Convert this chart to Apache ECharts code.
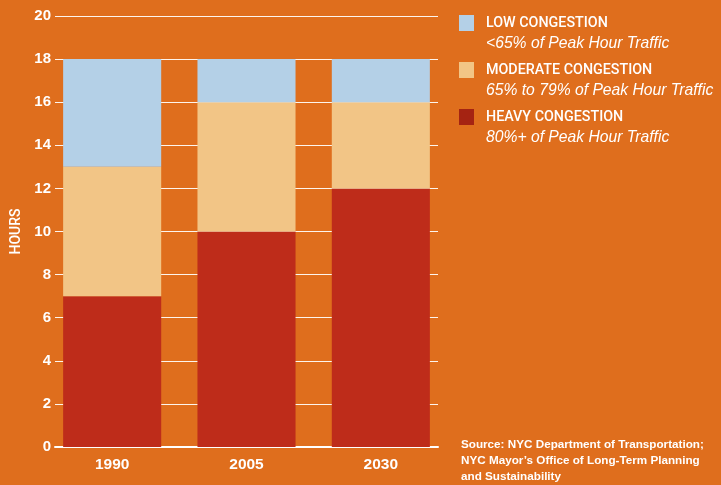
<!DOCTYPE html>
<html><head><meta charset="utf-8">
<script src="https://cdn.jsdelivr.net/npm/echarts@6/dist/echarts.min.js"></script>
<style>html,body{margin:0;padding:0;background:#DF6E1D;}#c{width:721px;height:485px;}</style>
</head><body><div id="c"></div>
<script>
const categories = ['1990', '2005', '2030'];
const heavyHours = [7, 10, 12];
const moderateHours = [6, 6, 4];
const lowHours = [5, 2, 2];
const yMin = 0, yMax = 20, yStep = 2;
const legendNames = ['LOW CONGESTION', 'MODERATE CONGESTION', 'HEAVY CONGESTION'];
const legendSubtitles = {
  'LOW CONGESTION': '<65% of Peak Hour Traffic',
  'MODERATE CONGESTION': '65% to 79% of Peak Hour Traffic',
  'HEAVY CONGESTION': '80%+ of Peak Hour Traffic'
};
const sourceLines = [
  'Source: NYC Department of Transportation;',
  'NYC Mayor\u2019s Office of Long-Term Planning',
  'and Sustainability'
];

const C_BG = '#DF6E1D', C_HEAVY = '#BE2C1A', C_MOD = '#F2C586', C_LOW = '#B4D0E7', C_HEAVY_KEY = '#A52312';
const FONT = '"Liberation Sans", Arial, sans-serif';
const CAPS = 'Roboto, "Liberation Sans", sans-serif';

const chart = echarts.init(document.getElementById('c'));
chart.setOption({
  backgroundColor: C_BG,
  animation: false,
  title: {
    text: sourceLines.join('\n'),
    left: 461, top: 437, padding: 0,
    textStyle: { color: '#fff', fontFamily: FONT, fontSize: 11.7, fontWeight: 'bold', lineHeight: 16 }
  },
  legend: {
    orient: 'vertical', left: 459, top: -3, padding: 0,
    itemWidth: 15, itemHeight: 16, itemGap: -8,
    icon: 'rect', selectedMode: false,
    data: [
      { name: legendNames[0], itemStyle: { color: C_LOW } },
      { name: legendNames[1], itemStyle: { color: C_MOD } },
      { name: legendNames[2], itemStyle: { color: C_HEAVY_KEY } }
    ],
    formatter: n => `{c| }\n{a|${n}}\n{b|${legendSubtitles[n]}}`,
    textStyle: {
      color: '#fff',
      rich: {
        c: { fontSize: 10, lineHeight: 21 },
        a: { fontFamily: CAPS, fontWeight: 500, fontSize: 14.3, lineHeight: 21, color: '#fff', padding: [0, 0, 0, 7] },
        b: { fontFamily: FONT, fontStyle: 'italic', fontSize: 15.7, lineHeight: 21, color: '#fff', padding: [0, 0, 0, 7] }
      }
    }
  },
  grid: [
    { left: 55, right: 283, top: 16, bottom: 38 },
    { left: 45, right: 273, top: 16, bottom: 38 }
  ],
  xAxis: [
    { gridIndex: 0, type: 'value', min: 0, max: 1,
      axisLine: { show: true, lineStyle: { color: '#fff', width: 2 } },
      axisTick: { show: false }, axisLabel: { show: false }, splitLine: { show: false } },
    { gridIndex: 1, type: 'category', data: categories,
      axisLine: { show: false }, axisTick: { show: false },
      axisLabel: { color: '#fff', fontFamily: FONT, fontSize: 15.5, fontWeight: 'bold', margin: 10 } }
  ],
  yAxis: [
    { gridIndex: 0, type: 'value', min: yMin, max: yMax, interval: yStep,
      name: 'HOURS', nameLocation: 'middle', nameGap: 30, nameRotate: 90,
      nameTextStyle: { color: '#fff', fontFamily: CAPS, fontWeight: 500, fontSize: 14 },
      axisLine: { show: false }, axisTick: { show: false },
      axisLabel: { color: '#fff', fontFamily: FONT, fontSize: 15, fontWeight: 'bold', margin: 4 },
      splitLine: { lineStyle: { color: 'rgba(255,255,255,0.92)', width: 1 } } },
    { gridIndex: 1, type: 'value', min: yMin, max: yMax, show: false, splitLine: { show: false } }
  ],
  series: [
    { name: legendNames[2], type: 'bar', stack: 'h', xAxisIndex: 1, yAxisIndex: 1, data: heavyHours,
      barCategoryGap: '27%', itemStyle: { color: C_HEAVY } },
    { name: legendNames[1], type: 'bar', stack: 'h', xAxisIndex: 1, yAxisIndex: 1, data: moderateHours,
      barCategoryGap: '27%', itemStyle: { color: C_MOD } },
    { name: legendNames[0], type: 'bar', stack: 'h', xAxisIndex: 1, yAxisIndex: 1, data: lowHours,
      barCategoryGap: '27%', itemStyle: { color: C_LOW } }
  ]
});
</script></body></html>
